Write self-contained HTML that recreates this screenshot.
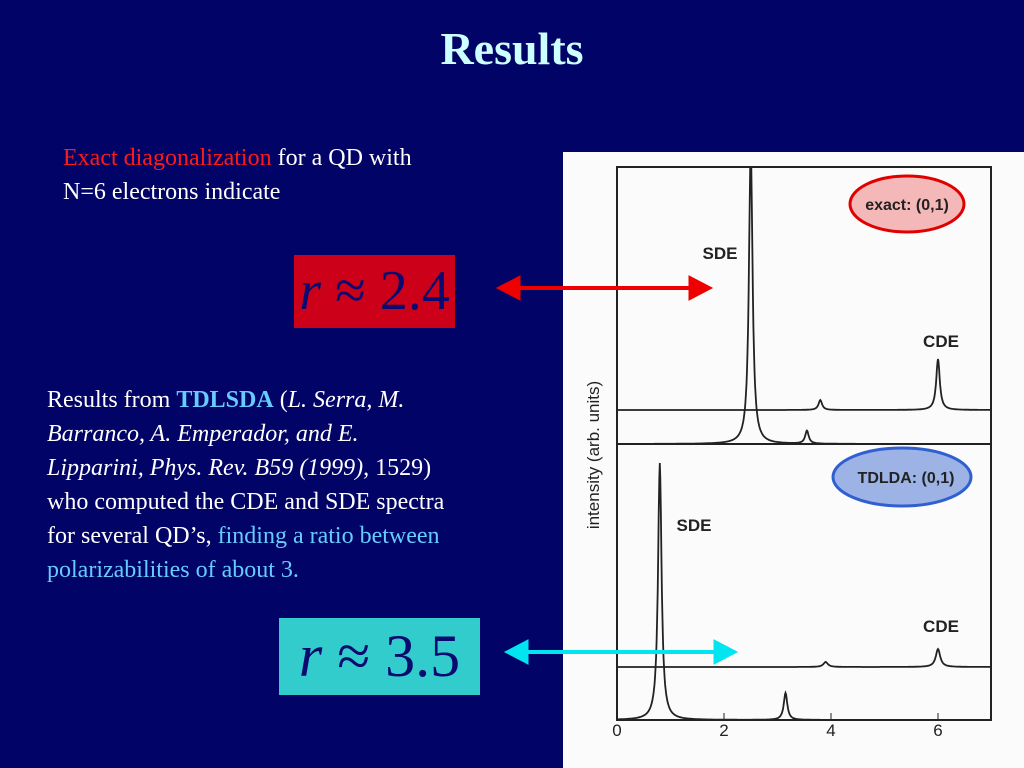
<!DOCTYPE html>
<html><head><meta charset="utf-8"><style>
body{margin:0;width:1024px;height:768px;background:#020366;overflow:hidden;position:relative;font-family:"Liberation Serif",serif}
.t{position:absolute;color:#fff;font-size:24px;line-height:34px}
</style></head><body>
<div style="position:absolute;left:0;width:1024px;top:22px;text-align:center;color:#ccffff;font-weight:bold;font-size:46px">Results</div>
<div class="t" style="left:63px;top:141px"><span style="color:#ff1a1a">Exact diagonalization</span> for a QD with<br>N=6 electrons indicate</div>
<div style="position:absolute;left:294px;top:255px;width:161px;height:73px;background:#cc0018;color:#0a0a70;font-size:56px;line-height:73px;text-align:center"><i>r</i> ≈ 2.4</div>
<div class="t" style="left:47px;top:383px"><span>Results from <b style="color:#66ccff">TDLSDA</b> (<i>L. Serra, M.<br>Barranco, A. Emperador, and E.<br>Lipparini, Phys. Rev. B59 (1999),</i> 1529)<br>who computed the CDE and SDE spectra<br>for several QD’s, <span style="color:#66ccff">finding a ratio between<br>polarizabilities of about 3.</span></span></div>
<div style="position:absolute;left:279px;top:618px;width:201px;height:77px;background:#33cccc;color:#0a0a70;font-size:60px;line-height:77px;text-align:center"><i>r</i> ≈ 3.5</div>
<svg width="1024" height="768" style="position:absolute;left:0;top:0" id="svg">
<rect x="563" y="152" width="461" height="616" fill="#fbfbfb"/>
<g id="plot"></g>
<g fill="#ee0000" stroke="#ee0000">
<line x1="515" y1="288" x2="692" y2="288" stroke-width="4"/>
<polygon points="497,288 520,276 520,300"/><polygon points="712,288 689,276 689,300"/></g>
<g fill="#00e5f0" stroke="#00e5f0">
<line x1="523" y1="652" x2="717" y2="652" stroke-width="4"/>
<polygon points="505,652 528,640 528,664"/><polygon points="737,652 714,640 714,664"/></g>
</svg>
<script>
const xTicks=[0,2,4,6];
const exactLowerPeaks=[2.5,3.55];
const exactLowerHeights=[300,13];
const exactUpperPeaks=[3.8,6.0];
const exactUpperHeights=[10,51];
const tdldaLowerPeaks=[0.8,3.15];
const tdldaLowerHeights=[257,27];
const tdldaUpperPeaks=[3.9,6.0];
const tdldaUpperHeights=[5,18];
const L=617,R=991,T=167,MID=444,B=720;
const xs=v=>L+(v-0)*(938-L)/6;
const g=document.getElementById('plot');
const NS='http://www.w3.org/2000/svg';
function mk(t,a){const e=document.createElementNS(NS,t);for(const k in a)e.setAttribute(k,a[k]);g.appendChild(e);return e;}
const f=mk('rect',{x:L,y:T,width:R-L,height:B-T,fill:'none',stroke:'#222','stroke-width':2});

const d=mk('line',{x1:L,x2:R,y1:MID,y2:MID,stroke:'#222','stroke-width':2});

xTicks.forEach(v=>{const t=mk('text',{x:xs(v),y:736,'text-anchor':'middle','font-size':17,fill:'#222','font-family':'Liberation Sans'});t.textContent=v;

const l=mk('line',{x1:xs(v),x2:xs(v),y1:B,y2:B-7,stroke:'#222'});});
function curve(base,peaks,heights,w,name,top){let p='';for(let i=0;i<=700;i++){const x=i/100;let y=0;peaks.forEach((c,j)=>{y+=heights[j]/(1+((x-c)/w)**2);});let py=Math.max(top,base-y);p+=(i?'L':'M')+xs(x).toFixed(1)+','+py.toFixed(1);}
const e=mk('path',{d:p,fill:'none',stroke:'#222','stroke-width':1.8});}
curve(MID,exactLowerPeaks,exactLowerHeights,0.04,'exact-sde-curve',T);
curve(410,exactUpperPeaks,exactUpperHeights,0.04,'exact-cde-curve',T);
curve(B,tdldaLowerPeaks,tdldaLowerHeights,0.04,'tdlda-sde-curve',MID);
curve(667,tdldaUpperPeaks,tdldaUpperHeights,0.05,'tdlda-cde-curve',MID);
function lab(x,y,s,name,fs){const t=mk('text',{x:x,y:y,'font-size':fs||17,'font-weight':'bold',fill:'#222','font-family':'Liberation Sans','text-anchor':'middle'});t.textContent=s;}
lab(720,259,'SDE','sde-label-top');lab(941,347,'CDE','cde-label-top');
lab(694,531,'SDE','sde-label-bottom');lab(941,632,'CDE','cde-label-bottom');
const e1=mk('ellipse',{cx:907,cy:204,rx:57,ry:28,fill:'#f4b8b8',stroke:'#e00000','stroke-width':3});
lab(907,210,'exact: (0,1)','exact-label',16);
const e2=mk('ellipse',{cx:902,cy:477,rx:69,ry:29,fill:'#9db3e6',stroke:'#3060d0','stroke-width':3});
lab(906,483,'TDLDA: (0,1)','tdlda-label',16);
const yl=mk('text',{x:0,y:0,transform:'translate(599,455) rotate(-90)','text-anchor':'middle','font-size':17,fill:'#222','font-family':'Liberation Sans'});yl.textContent='intensity (arb. units)';

</script>
</body></html>
